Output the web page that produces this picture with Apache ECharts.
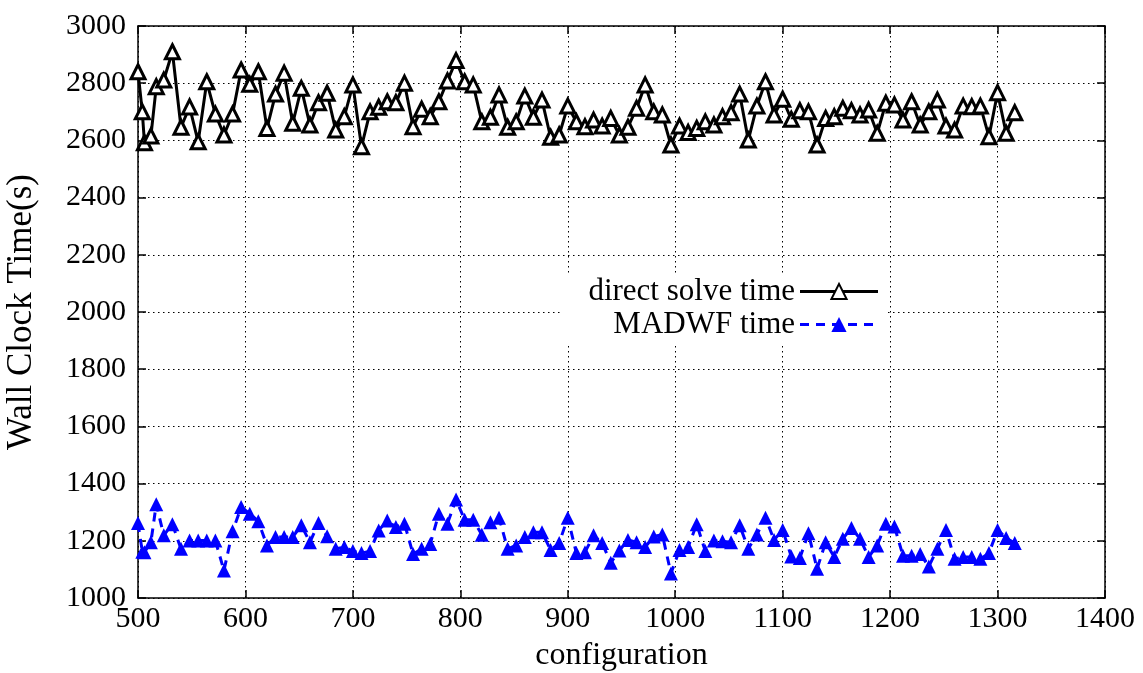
<!DOCTYPE html>
<html>
<head>
<meta charset="utf-8">
<script src="https://cdn.jsdelivr.net/npm/echarts@6/dist/echarts.min.js"></script>
<style>html,body{margin:0;padding:0;background:#fff}#c{width:1143px;height:673px}</style>
</head>
<body>
<div id="c"></div>
<script>
const configs = [500,504,506,512,517,524,532,540,548,556,564,572,580,588,596,604,612,620,628,636,644,652,660,668,676,684,692,700,708,716,724,732,740,748,756,764,772,780,788,796,804,812,820,828,836,844,852,860,868,876,884,892,900,908,916,924,932,940,948,956,964,972,980,988,996,1004,1012,1020,1028,1036,1044,1052,1060,1068,1076,1084,1092,1100,1108,1116,1124,1132,1140,1148,1156,1164,1172,1180,1188,1196,1204,1212,1220,1228,1236,1244,1252,1260,1268,1276,1284,1292,1300,1308,1316];
const directSolve = [2840,2700,2592,2615,2788,2811,2910,2646,2717,2595,2805,2692,2619,2692,2846,2796,2840,2642,2762,2835,2660,2782,2654,2732,2765,2636,2683,2794,2578,2700,2716,2735,2732,2800,2648,2709,2683,2735,2808,2879,2805,2794,2665,2681,2759,2646,2665,2755,2681,2741,2611,2619,2720,2665,2648,2671,2650,2677,2619,2646,2712,2794,2700,2689,2584,2650,2628,2642,2665,2654,2683,2697,2762,2601,2720,2805,2689,2744,2674,2704,2700,2584,2677,2683,2712,2704,2689,2706,2625,2730,2724,2671,2735,2654,2700,2741,2650,2636,2720,2718,2720,2613,2767,2625,2697];
const madwf = [1262,1162,1160,1195,1328,1219,1258,1172,1201,1201,1201,1201,1096,1233,1318,1295,1268,1184,1213,1213,1213,1254,1195,1262,1216,1172,1178,1164,1157,1164,1236,1271,1248,1260,1154,1172,1189,1295,1260,1344,1274,1274,1221,1265,1281,1172,1184,1213,1230,1230,1168,1192,1281,1157,1160,1219,1192,1123,1166,1203,1195,1178,1215,1222,1086,1168,1178,1258,1164,1201,1198,1195,1254,1172,1222,1281,1203,1238,1145,1140,1226,1102,1195,1143,1207,1245,1207,1143,1184,1260,1250,1148,1148,1154,1110,1172,1238,1137,1143,1143,1137,1157,1238,1210,1192];
const seriesNames = ['direct solve time', 'MADWF time'];
const xTicks = {min: 500, max: 1400, interval: 100};
const yTicks = {min: 1000, max: 3000, interval: 200};

const FONT = 'Liberation Serif';
const chart = echarts.init(document.getElementById('c'), null, {renderer: 'canvas'});
const dotted = {color: '#000', width: 1, type: [1.5, 3.5]};
const axisCommon = {
  axisLine: {show: true, onZero: false, lineStyle: {color: '#000', width: 1.5}},
  axisTick: {show: true, inside: true, length: 8, lineStyle: {color: '#000', width: 1.5}},
};
const plain = v => String(v);
chart.setOption({
  animation: false,
  backgroundColor: '#fff',
  grid: {left: 138, top: 26, width: 967, height: 572, containLabel: false, outerBoundsMode: 'none'},
  xAxis: [
    Object.assign({type: 'value', min: xTicks.min, max: xTicks.max, interval: xTicks.interval, position: 'bottom',
      name: 'configuration', nameLocation: 'middle', nameGap: 42,
      nameTextStyle: {fontFamily: FONT, fontSize: 32, color: '#000'},
      axisLabel: {fontFamily: FONT, fontSize: 30, color: '#000', margin: 6, formatter: plain},
      splitLine: {show: true, lineStyle: dotted}}, axisCommon),
    Object.assign({type: 'value', min: xTicks.min, max: xTicks.max, interval: xTicks.interval, position: 'top',
      axisLabel: {show: false}, splitLine: {show: false}}, axisCommon)
  ],
  yAxis: [
    Object.assign({type: 'value', min: yTicks.min, max: yTicks.max, interval: yTicks.interval, position: 'left',
      name: 'Wall Clock Time(s)', nameLocation: 'middle', nameGap: 99, nameRotate: 90,
      nameTextStyle: {fontFamily: FONT, fontSize: 35, color: '#000'},
      axisLabel: {fontFamily: FONT, fontSize: 30, color: '#000', margin: 12, formatter: plain},
      splitLine: {show: true, lineStyle: dotted}}, axisCommon),
    Object.assign({type: 'value', min: yTicks.min, max: yTicks.max, interval: yTicks.interval, position: 'right',
      axisLabel: {show: false}, splitLine: {show: false}}, axisCommon)
  ],
  legend: {
    orient: 'vertical', left: 561, top: 274, itemWidth: 78, itemHeight: 19, itemGap: 2,
    align: 'right', backgroundColor: '#fff', padding: [2, 6, 4, 4],
    data: [
      {name: seriesNames[0], lineStyle: {width: 3}},
      {name: seriesNames[1], lineStyle: {width: 3}}
    ],
    formatter: name => '{a|' + name + '}',
    textStyle: {fontFamily: FONT, fontSize: 31, color: '#000',
      rich: {a: {width: 230, align: 'right', lineHeight: 31, fontFamily: FONT, fontSize: 31, color: '#000'}}}
  },
  series: [
    {
      name: seriesNames[0], type: 'line', xAxisIndex: 0, yAxisIndex: 0,
      data: configs.map((c, i) => [c, directSolve[i]]),
      symbol: 'triangle', symbolSize: 14, showAllSymbol: true,
      lineStyle: {color: '#000', width: 3},
      itemStyle: {color: '#fff', borderColor: '#000', borderWidth: 3},
      z: 3
    },
    {
      name: seriesNames[1], type: 'line', xAxisIndex: 0, yAxisIndex: 0,
      data: configs.map((c, i) => [c, madwf[i]]),
      symbol: 'triangle', symbolSize: 14, showAllSymbol: true,
      lineStyle: {color: '#0000ff', width: 3, type: [9, 7]},
      itemStyle: {color: '#0000ff', borderWidth: 0},
      z: 3
    }
  ]
});
</script>
</body>
</html>
